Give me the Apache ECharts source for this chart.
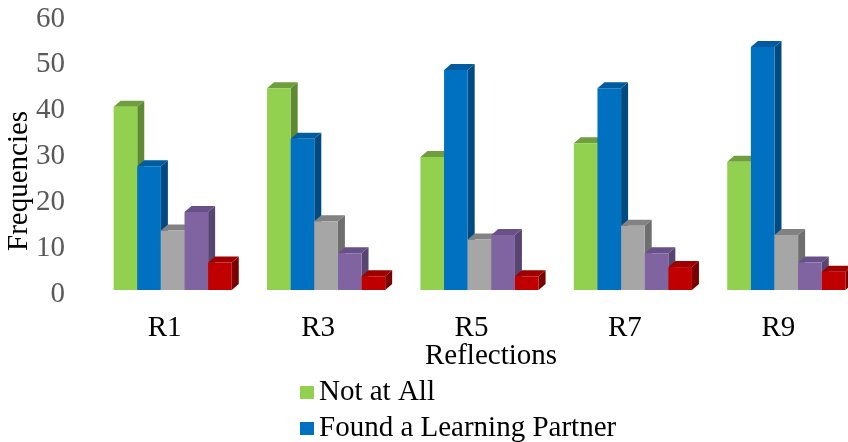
<!DOCTYPE html>
<html>
<head>
<meta charset="utf-8">
<script src="https://cdn.jsdelivr.net/npm/echarts@6/dist/echarts.min.js"></script>
<style>
html,body{margin:0;padding:0;background:#fff;overflow:hidden;}
#wrap{width:848px;height:442px;overflow:hidden;}
#chart{width:864px;height:442px;}
</style>
</head>
<body>
<div id="wrap"><div id="chart"></div></div>
<script>
// ---- data ----
var categories = ['R1', 'R3', 'R5', 'R7', 'R9'];
var seriesNames = ['Not at All', 'Found a Learning Partner', 'Series 3', 'Series 4', 'Series 5'];
var notAtAll = [40, 44, 29, 32, 28];
var learningPartner = [27, 33, 48, 44, 53];
var series3 = [13, 15, 11, 14, 12];
var series4 = [17, 8, 12, 8, 6];
var series5 = [6, 3, 3, 5, 4];
var yTicks = [0, 10, 20, 30, 40, 50, 60];

var allValues = [notAtAll, learningPartner, series3, series4, series5];
var frontColors = ['#92D050', '#0070C0', '#A6A6A6', '#8064A2', '#C00000'];
var topColors = ['#6F9E3D', '#005C9F', '#828282', '#685188', '#9E0000'];
var sideColors = ['#5E8A33', '#004A82', '#6E6E6E', '#574470', '#7A0000'];

var FONT = '"Liberation Serif", "Times New Roman", serif';
var FS = 29;
var DX = 7, DY = 6, LIFT = 4;
var NS = allValues.length;

function makeRender(s) {
  return function (params, api) {
    var ci = api.value(0);
    var v = api.value(1);
    var base = api.coord([ci, 0]);
    var top = api.coord([ci, v]);
    var band = api.size([1, 0])[0];
    var barW = band * 0.154;
    var groupW = barW * NS;
    var x0 = base[0] - groupW / 2 + s * barW;
    var yb = base[1] - LIFT;
    var yt = top[1] - LIFT;
    var x1 = x0 + barW;
    return {
      type: 'group',
      children: [
        {
          type: 'polygon',
          shape: { points: [[x1, yt], [x1 + DX, yt - DY], [x1 + DX, yb - DY], [x1, yb]] },
          style: { fill: sideColors[s] }
        },
        {
          type: 'polygon',
          shape: { points: [[x0, yt], [x0 + DX, yt - DY], [x1 + DX, yt - DY], [x1, yt]] },
          style: { fill: topColors[s] }
        },
        {
          type: 'rect',
          shape: { x: x0, y: yt, width: barW, height: yb - yt },
          style: { fill: frontColors[s] }
        }
      ]
    };
  };
}

var series = allValues.map(function (vals, s) {
  return {
    type: 'custom',
    name: seriesNames[s],
    itemStyle: { color: frontColors[s] },
    renderItem: makeRender(s),
    encode: { x: 0, y: 1 },
    data: vals.map(function (v, i) { return [i, v]; })
  };
});

var chart = echarts.init(document.getElementById('chart'), null, { renderer: 'canvas' });
chart.setOption({
  animation: false,
  backgroundColor: '#ffffff',
  grid: { left: 96, top: 19, width: 767, height: 275 },
  xAxis: {
    type: 'category',
    data: categories,
    axisLine: { show: false },
    axisTick: { show: false },
    axisLabel: { margin: 20, color: '#000', fontSize: FS, fontFamily: FONT, padding: [0, 16, 0, 0] }
  },
  yAxis: {
    type: 'value',
    min: yTicks[0],
    max: yTicks[yTicks.length - 1],
    interval: 10,
    splitLine: { show: false },
    axisLine: { show: false },
    axisTick: { show: false },
    axisLabel: { margin: 31, color: '#595959', fontSize: FS, fontFamily: FONT }
  },
  legend: {
    data: ['Not at All', 'Found a Learning Partner'],
    orient: 'vertical',
    left: 300,
    top: 378,
    height: 80,
    padding: 0,
    itemGap: 7,
    itemWidth: 14,
    itemHeight: 13,
    icon: 'rect',
    textStyle: { color: '#000', fontSize: FS, fontFamily: FONT, lineHeight: 28 }
  },
  graphic: [
    {
      type: 'text',
      left: 425,
      top: 342,
      style: { text: 'Reflections', fill: '#000', font: FS + 'px ' + FONT }
    },
    {
      type: 'text',
      x: 5,
      y: 251,
      rotation: Math.PI / 2,
      style: { text: 'Frequencies', fill: '#000', font: FS + 'px ' + FONT, textAlign: 'left', textVerticalAlign: 'top' }
    }
  ],
  series: series
});
</script>
</body>
</html>
